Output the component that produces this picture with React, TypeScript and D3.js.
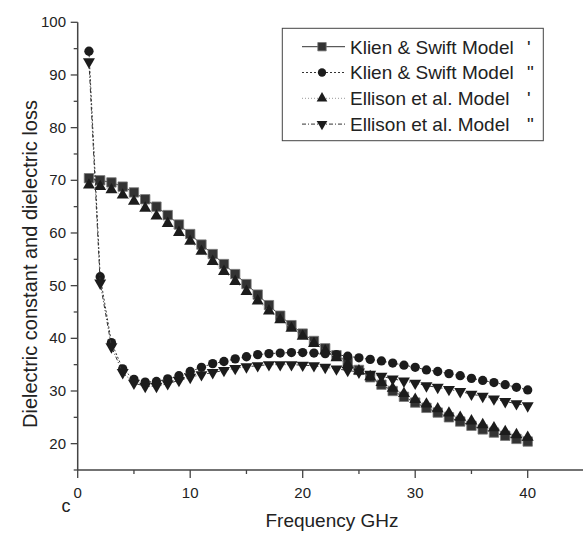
import React from "react";
import * as d3 from "d3";

// frequency points (GHz)
const freq = d3.range(1, 41);

// Klien & Swift Model ' (squares)
const klienReal = [70.4, 70.0, 69.6, 68.8, 67.7, 66.4, 65.0, 63.4, 61.6, 59.8,
  57.8, 56.0, 54.1, 52.2, 50.3, 48.3, 46.3, 44.3, 42.5, 40.9,
  39.5, 38.1, 36.8, 35.5, 34.0, 32.6, 31.2, 30.0, 28.9, 27.8,
  26.8, 25.9, 25.0, 24.2, 23.4, 22.7, 22.1, 21.5, 20.9, 20.4];

// Klien & Swift Model " (circles)
const klienImag = [94.5, 51.7, 39.2, 34.2, 32.2, 31.7, 31.8, 32.3, 32.9, 33.7,
  34.5, 35.2, 35.6, 36.1, 36.5, 36.9, 37.1, 37.2, 37.3, 37.3,
  37.2, 37.1, 36.9, 36.6, 36.3, 36.0, 35.7, 35.3, 34.9, 34.5,
  34.0, 33.7, 33.3, 32.9, 32.4, 32.0, 31.6, 31.2, 30.7, 30.2];

// Ellison et al. Model ' (triangles up)
const ellisonReal = [69.1, 68.8, 68.2, 67.2, 66.0, 64.7, 63.2, 61.8, 60.1, 58.4,
  56.5, 54.6, 52.7, 50.8, 48.9, 47.1, 45.2, 43.5, 41.9, 40.4,
  39.0, 37.6, 36.3, 35.0, 33.8, 32.7, 31.6, 30.5, 29.5, 28.4,
  27.5, 26.6, 25.8, 25.0, 24.3, 23.6, 23.0, 22.3, 21.7, 21.2];

// Ellison et al. Model " (triangles down)
const ellisonImag = [92.5, 50.5, 38.4, 33.5, 31.5, 30.9, 30.9, 31.4, 32.0, 32.6,
  33.1, 33.5, 33.9, 34.3, 34.6, 34.8, 35.0, 35.0, 35.0, 34.9,
  34.8, 34.5, 34.2, 33.9, 33.6, 33.2, 32.8, 32.3, 31.9, 31.5,
  31.0, 30.7, 30.3, 29.9, 29.4, 29.0, 28.5, 28.0, 27.6, 27.2];

const seriesNames = ["Klien & Swift Model", "Klien & Swift Model", "Ellison et al. Model", "Ellison et al. Model"];
const seriesPrimes = ["'", "\"", "'", "\""];

const xTicks = [0, 10, 20, 30, 40];
const xMinor = [5, 15, 25, 35];
const yTicks = [20, 30, 40, 50, 60, 70, 80, 90, 100];
const yMinor = [15, 25, 35, 45, 55, 65, 75, 85, 95];

const font = "'Liberation Sans', Arial, sans-serif";
const axisColor = "#444";
const ink = "#222";

const W = 583, H = 535;
const x = d3.scaleLinear().domain([0, 45]).range([77.7, 77.7 + 45 * 11.25]);
const y = d3.scaleLinear().domain([15, 100]).range([470, 22.3]);

const styles = [
  { symbol: d3.symbolSquare, size: 88, rot: 0, dash: "none", lineColor: "#333", fill: "#333", stroke: "#777" },
  { symbol: d3.symbolCircle, size: 68, rot: 0, dash: "2,2", lineColor: "#333", fill: "#1c1c1c", stroke: "none" },
  { symbol: d3.symbolTriangle, size: 62, rot: 0, dash: "1,2", lineColor: "#999", fill: "#1c1c1c", stroke: "none" },
  { symbol: d3.symbolTriangle, size: 62, rot: 180, dash: "4,2,1,2", lineColor: "#333", fill: "#1c1c1c", stroke: "none" },
];

const allSeries = [klienReal, klienImag, ellisonReal, ellisonImag];

export default function App() {
  const line = d3.line<number>().x((_, i) => x(freq[i])).y((d) => y(d));

  return (
    <svg width={W} height={H} style={{ position: "absolute", left: 0, top: 0, background: "#fff" }}
      fontFamily={font}>
      {/* series */}
      {allSeries.map((vals, si) => {
        const st = styles[si];
        const path = d3.symbol().type(st.symbol).size(st.size)()!;
        return (
          <g key={si}>
            <path d={line(vals)!} fill="none" stroke={st.lineColor} strokeWidth={1}
              strokeDasharray={st.dash} />
            {vals.map((v, i) => (
              <path key={i} d={path}
                transform={`translate(${x(freq[i])},${y(v)}) rotate(${st.rot})`}
                fill={st.fill} stroke={st.stroke} strokeWidth={0.8} />
            ))}
          </g>
        );
      })}

      {/* axes */}
      <line x1={x(0)} x2={x(45)} y1={y(15)} y2={y(15)} stroke={axisColor} strokeWidth={1.5} />
      <line x1={x(0)} x2={x(0)} y1={y(15)} y2={y(100)} stroke={axisColor} strokeWidth={1.5} />
      {xTicks.map((t) => (
        <g key={"x" + t}>
          <line x1={x(t)} x2={x(t)} y1={y(15)} y2={y(15) + 8} stroke={axisColor} strokeWidth={1.3} />
          <text x={x(t)} y={498} textAnchor="middle" fontSize={15} fill={ink}>{t}</text>
        </g>
      ))}
      {xMinor.map((t) => (
        <line key={"xm" + t} x1={x(t)} x2={x(t)} y1={y(15)} y2={y(15) + 4} stroke={axisColor} strokeWidth={1.3} />
      ))}
      {yTicks.map((t) => (
        <g key={"y" + t}>
          <line x1={x(0) - 7} x2={x(0)} y1={y(t)} y2={y(t)} stroke={axisColor} strokeWidth={1.3} />
          <text x={66} y={y(t) + 5} textAnchor="end" fontSize={15} fill={ink}>{t}</text>
        </g>
      ))}
      {yMinor.map((t) => (
        <line key={"ym" + t} x1={x(0) - 4} x2={x(0)} y1={y(t)} y2={y(t)} stroke={axisColor} strokeWidth={1.3} />
      ))}

      {/* axis titles */}
      <text x={332} y={527} textAnchor="middle" fontSize={19} fill={ink}>Frequency GHz</text>
      <text transform="translate(37,264) rotate(-90)" textAnchor="middle" fontSize={20} fill={ink}>
        Dielectric constant and dielectric loss
      </text>
      <text x={66} y={512} textAnchor="middle" fontSize={18} fill={ink}>c</text>

      {/* legend */}
      <rect x={282.3} y={28.3} width={261} height={112.4} fill="#fff" stroke="#444" strokeWidth={1} />
      {seriesNames.map((name, i) => {
        const st = styles[i];
        const cy = 46.7 + i * 25.8;
        const path = d3.symbol().type(st.symbol).size(st.size * 0.8)()!;
        return (
          <g key={"lg" + i}>
            <line x1={302} x2={345} y1={cy} y2={cy} stroke={st.lineColor} strokeWidth={1}
              strokeDasharray={st.dash} />
            <path d={path} transform={`translate(322,${cy}) rotate(${st.rot})`}
              fill={st.fill} stroke={st.stroke} strokeWidth={0.8} />
            <text x={350} y={cy + 6.8} fontSize={19} fill={ink}>{name}</text>
            <text x={527} y={cy + 6.8} fontSize={19} fill={ink}>{seriesPrimes[i]}</text>
          </g>
        );
      })}
    </svg>
  );
}
